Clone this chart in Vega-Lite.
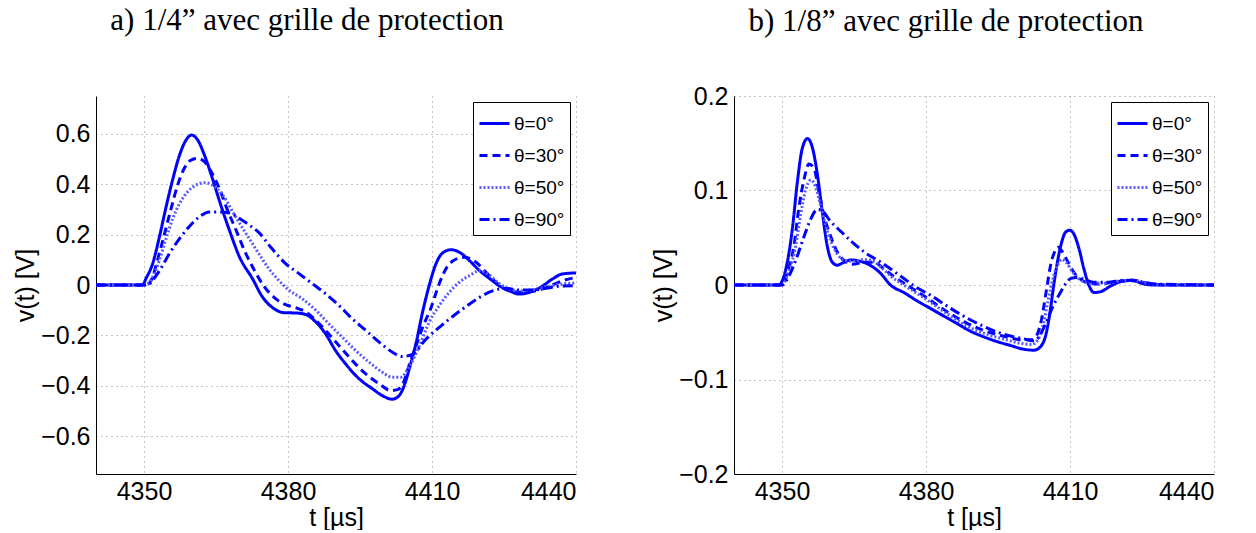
{
  "$schema": "https://vega.github.io/schema/vega-lite/v6.json",
  "padding": {"left": 13, "top": 5, "right": 5, "bottom": 0},
  "background": "white",
  "config": {
    "view": {"stroke": null},
    "font": "Liberation Sans",
    "axis": {
      "labelFont": "Liberation Sans", "labelFontSize": 25, "labelColor": "black",
      "titleFont": "Liberation Sans", "titleFontSize": 25, "titleFontWeight": "normal", "titleColor": "black",
      "domainColor": "black", "domainWidth": 1,
      "ticks": false,
      "gridColor": "#888888", "gridDash": [1, 4], "gridWidth": 1
    },
    "legend": {
      "orient": "top-right", "offset": 6, "title": null,
      "strokeColor": "black", "fillColor": "white", "padding": 5, "cornerRadius": 0,
      "labelFont": "Liberation Sans", "labelFontSize": 19, "labelColor": "black",
      "symbolType": "stroke", "symbolSize": 900, "rowPadding": 5, "labelOffset": 3
    },
    "title": {"font": "Liberation Serif", "fontSize": 31, "fontWeight": "normal", "color": "black", "frame": "group", "anchor": "middle"}
  },
  "resolve": {"scale": {"color": "independent", "strokeDash": "independent", "strokeWidth": "independent"}, "legend": {"color": "independent", "strokeDash": "independent", "strokeWidth": "independent"}},
  "spacing": 75,
  "datasets": {
    "a": [
      {"s":"θ=0°","t":4340,"v":0},{"s":"θ=0°","t":4349.7,"v":0},{"s":"θ=0°","t":4350.4,"v":0.025},{"s":"θ=0°","t":4351.8,"v":0.085},{"s":"θ=0°","t":4353.2,"v":0.19},{"s":"θ=0°","t":4354.6,"v":0.31},{"s":"θ=0°","t":4356,"v":0.42},{"s":"θ=0°","t":4357.4,"v":0.515},{"s":"θ=0°","t":4358.75,"v":0.575},{"s":"θ=0°","t":4359.9,"v":0.595},{"s":"θ=0°","t":4361.2,"v":0.575},{"s":"θ=0°","t":4362.6,"v":0.515},{"s":"θ=0°","t":4364.3,"v":0.42},{"s":"θ=0°","t":4366,"v":0.317},{"s":"θ=0°","t":4367.8,"v":0.217},{"s":"θ=0°","t":4369.9,"v":0.111},{"s":"θ=0°","t":4372.6,"v":0.025},{"s":"θ=0°","t":4374.7,"v":-0.048},{"s":"θ=0°","t":4377.1,"v":-0.094},{"s":"θ=0°","t":4379.2,"v":-0.11},{"s":"θ=0°","t":4381.6,"v":-0.111},{"s":"θ=0°","t":4383.7,"v":-0.117},{"s":"θ=0°","t":4385.8,"v":-0.147},{"s":"θ=0°","t":4387.8,"v":-0.193},{"s":"θ=0°","t":4389.9,"v":-0.26},{"s":"θ=0°","t":4392,"v":-0.313},{"s":"θ=0°","t":4394.8,"v":-0.372},{"s":"θ=0°","t":4397.6,"v":-0.412},{"s":"θ=0°","t":4399.65,"v":-0.439},{"s":"θ=0°","t":4401.7,"v":-0.453},{"s":"θ=0°","t":4403.1,"v":-0.44},{"s":"θ=0°","t":4404.2,"v":-0.4},{"s":"θ=0°","t":4405.3,"v":-0.33},{"s":"θ=0°","t":4406.7,"v":-0.228},{"s":"θ=0°","t":4408.1,"v":-0.102},{"s":"θ=0°","t":4409.4,"v":-0.003},{"s":"θ=0°","t":4410.8,"v":0.083},{"s":"θ=0°","t":4412.2,"v":0.127},{"s":"θ=0°","t":4414,"v":0.14},{"s":"θ=0°","t":4415.7,"v":0.13},{"s":"θ=0°","t":4417.8,"v":0.097},{"s":"θ=0°","t":4419.9,"v":0.057},{"s":"θ=0°","t":4421.9,"v":0.027},{"s":"θ=0°","t":4424,"v":-0.003},{"s":"θ=0°","t":4426.1,"v":-0.023},{"s":"θ=0°","t":4428.2,"v":-0.036},{"s":"θ=0°","t":4430.3,"v":-0.029},{"s":"θ=0°","t":4433.1,"v":-0.003},{"s":"θ=0°","t":4435.1,"v":0.024},{"s":"θ=0°","t":4437.2,"v":0.044},{"s":"θ=0°","t":4440,"v":0.048},
      {"s":"θ=30°","t":4340,"v":0},{"s":"θ=30°","t":4350.4,"v":0},{"s":"θ=30°","t":4351.5,"v":0.019},{"s":"θ=30°","t":4352.8,"v":0.098},{"s":"θ=30°","t":4354.2,"v":0.197},{"s":"θ=30°","t":4355.6,"v":0.3},{"s":"θ=30°","t":4357,"v":0.396},{"s":"θ=30°","t":4358.4,"v":0.463},{"s":"θ=30°","t":4359.8,"v":0.496},{"s":"θ=30°","t":4361.2,"v":0.502},{"s":"θ=30°","t":4362.6,"v":0.489},{"s":"θ=30°","t":4364,"v":0.449},{"s":"θ=30°","t":4365.7,"v":0.383},{"s":"θ=30°","t":4367.4,"v":0.297},{"s":"θ=30°","t":4369.2,"v":0.217},{"s":"θ=30°","t":4370.9,"v":0.138},{"s":"θ=30°","t":4373,"v":0.058},{"s":"θ=30°","t":4375,"v":-0.005},{"s":"θ=30°","t":4377.4,"v":-0.054},{"s":"θ=30°","t":4379.5,"v":-0.078},{"s":"θ=30°","t":4381.6,"v":-0.09},{"s":"θ=30°","t":4383.7,"v":-0.107},{"s":"θ=30°","t":4385.8,"v":-0.14},{"s":"θ=30°","t":4387.8,"v":-0.18},{"s":"θ=30°","t":4390.6,"v":-0.24},{"s":"θ=30°","t":4393.4,"v":-0.3},{"s":"θ=30°","t":4396.2,"v":-0.353},{"s":"θ=30°","t":4399,"v":-0.392},{"s":"θ=30°","t":4401.4,"v":-0.419},{"s":"θ=30°","t":4402.8,"v":-0.415},{"s":"θ=30°","t":4404,"v":-0.39},{"s":"θ=30°","t":4405.2,"v":-0.32},{"s":"θ=30°","t":4406.5,"v":-0.25},{"s":"θ=30°","t":4408,"v":-0.17},{"s":"θ=30°","t":4409.8,"v":-0.09},{"s":"θ=30°","t":4411.5,"v":0.005},{"s":"θ=30°","t":4412.9,"v":0.064},{"s":"θ=30°","t":4414.65,"v":0.099},{"s":"θ=30°","t":4416.7,"v":0.11},{"s":"θ=30°","t":4419.2,"v":0.09},{"s":"θ=30°","t":4421.25,"v":0.05},{"s":"θ=30°","t":4423.3,"v":0.011},{"s":"θ=30°","t":4426.1,"v":-0.023},{"s":"θ=30°","t":4428.9,"v":-0.029},{"s":"θ=30°","t":4431.7,"v":-0.023},{"s":"θ=30°","t":4434.4,"v":-0.005},{"s":"θ=30°","t":4437.2,"v":0.017},{"s":"θ=30°","t":4440,"v":0.03},
      {"s":"θ=50°","t":4340,"v":0},{"s":"θ=50°","t":4350.4,"v":0},{"s":"θ=50°","t":4351.8,"v":0.032},{"s":"θ=50°","t":4353.2,"v":0.098},{"s":"θ=50°","t":4354.6,"v":0.184},{"s":"θ=50°","t":4356,"v":0.264},{"s":"θ=50°","t":4357.4,"v":0.323},{"s":"θ=50°","t":4359.1,"v":0.37},{"s":"θ=50°","t":4360.8,"v":0.396},{"s":"θ=50°","t":4362.6,"v":0.406},{"s":"θ=50°","t":4364.3,"v":0.396},{"s":"θ=50°","t":4366.4,"v":0.357},{"s":"θ=50°","t":4368.5,"v":0.29},{"s":"θ=50°","t":4370.6,"v":0.224},{"s":"θ=50°","t":4372.6,"v":0.164},{"s":"θ=50°","t":4374.4,"v":0.11},{"s":"θ=50°","t":4376,"v":0.065},{"s":"θ=50°","t":4378,"v":0.02},{"s":"θ=50°","t":4380.2,"v":-0.02},{"s":"θ=50°","t":4383,"v":-0.055},{"s":"θ=50°","t":4385.8,"v":-0.1},{"s":"θ=50°","t":4388.5,"v":-0.154},{"s":"θ=50°","t":4391.3,"v":-0.207},{"s":"θ=50°","t":4394.1,"v":-0.26},{"s":"θ=50°","t":4396.9,"v":-0.306},{"s":"θ=50°","t":4399.65,"v":-0.346},{"s":"θ=50°","t":4401.7,"v":-0.366},{"s":"θ=50°","t":4403.5,"v":-0.366},{"s":"θ=50°","t":4405.2,"v":-0.326},{"s":"θ=50°","t":4407.4,"v":-0.241},{"s":"θ=50°","t":4409.4,"v":-0.148},{"s":"θ=50°","t":4411.5,"v":-0.082},{"s":"θ=50°","t":4413.6,"v":-0.029},{"s":"θ=50°","t":4415.7,"v":0.011},{"s":"θ=50°","t":4417.8,"v":0.037},{"s":"θ=50°","t":4419.9,"v":0.057},{"s":"θ=50°","t":4421.9,"v":0.04},{"s":"θ=50°","t":4424,"v":0.006},{"s":"θ=50°","t":4426.1,"v":-0.016},{"s":"θ=50°","t":4428.9,"v":-0.023},{"s":"θ=50°","t":4431.7,"v":-0.016},{"s":"θ=50°","t":4434.4,"v":-0.005},{"s":"θ=50°","t":4437.2,"v":0.004},{"s":"θ=50°","t":4440,"v":0.008},
      {"s":"θ=90°","t":4340,"v":0},{"s":"θ=90°","t":4350.8,"v":0},{"s":"θ=90°","t":4351.8,"v":0.019},{"s":"θ=90°","t":4353.5,"v":0.065},{"s":"θ=90°","t":4355.3,"v":0.125},{"s":"θ=90°","t":4357.4,"v":0.184},{"s":"θ=90°","t":4359.4,"v":0.231},{"s":"θ=90°","t":4361.5,"v":0.27},{"s":"θ=90°","t":4363.6,"v":0.29},{"s":"θ=90°","t":4365.7,"v":0.29},{"s":"θ=90°","t":4367.8,"v":0.286},{"s":"θ=90°","t":4369.9,"v":0.264},{"s":"θ=90°","t":4372,"v":0.237},{"s":"θ=90°","t":4374,"v":0.207},{"s":"θ=90°","t":4376.4,"v":0.15},{"s":"θ=90°","t":4379.5,"v":0.085},{"s":"θ=90°","t":4382.3,"v":0.045},{"s":"θ=90°","t":4385.1,"v":0.005},{"s":"θ=90°","t":4387.8,"v":-0.034},{"s":"θ=90°","t":4390.6,"v":-0.081},{"s":"θ=90°","t":4393.4,"v":-0.134},{"s":"θ=90°","t":4396.2,"v":-0.18},{"s":"θ=90°","t":4399,"v":-0.227},{"s":"θ=90°","t":4401.7,"v":-0.266},{"s":"θ=90°","t":4403.8,"v":-0.284},{"s":"θ=90°","t":4405.9,"v":-0.275},{"s":"θ=90°","t":4408.75,"v":-0.215},{"s":"θ=90°","t":4411.5,"v":-0.168},{"s":"θ=90°","t":4414.3,"v":-0.125},{"s":"θ=90°","t":4417.1,"v":-0.085},{"s":"θ=90°","t":4419.9,"v":-0.049},{"s":"θ=90°","t":4422.6,"v":-0.023},{"s":"θ=90°","t":4425.4,"v":-0.013},{"s":"θ=90°","t":4428.2,"v":-0.02},{"s":"θ=90°","t":4431,"v":-0.02},{"s":"θ=90°","t":4433.75,"v":-0.013},{"s":"θ=90°","t":4436.5,"v":-0.005},{"s":"θ=90°","t":4440,"v":-0.003}
    ],
    "b": [
      {"s":"θ=0°","t":4340,"v":0},{"s":"θ=0°","t":4349.4,"v":0},{"s":"θ=0°","t":4350.1,"v":0.005},{"s":"θ=0°","t":4351.1,"v":0.024},{"s":"θ=0°","t":4352.15,"v":0.059},{"s":"θ=0°","t":4353.2,"v":0.109},{"s":"θ=0°","t":4354.2,"v":0.144},{"s":"θ=0°","t":4355.3,"v":0.155},{"s":"θ=0°","t":4356.3,"v":0.146},{"s":"θ=0°","t":4357.4,"v":0.116},{"s":"θ=0°","t":4358.4,"v":0.077},{"s":"θ=0°","t":4359.4,"v":0.042},{"s":"θ=0°","t":4360.5,"v":0.024},{"s":"θ=0°","t":4361.5,"v":0.021},{"s":"θ=0°","t":4362.9,"v":0.024},{"s":"θ=0°","t":4364.3,"v":0.0265},{"s":"θ=0°","t":4366.4,"v":0.025},{"s":"θ=0°","t":4368.5,"v":0.0205},{"s":"θ=0°","t":4370.6,"v":0.012},{"s":"θ=0°","t":4372.6,"v":0.0},{"s":"θ=0°","t":4375.4,"v":-0.008},{"s":"θ=0°","t":4378.2,"v":-0.017},{"s":"θ=0°","t":4381,"v":-0.025},{"s":"θ=0°","t":4383.75,"v":-0.033},{"s":"θ=0°","t":4386.5,"v":-0.041},{"s":"θ=0°","t":4389.3,"v":-0.049},{"s":"θ=0°","t":4392.1,"v":-0.055},{"s":"θ=0°","t":4394.9,"v":-0.06},{"s":"θ=0°","t":4397.6,"v":-0.064},{"s":"θ=0°","t":4400.4,"v":-0.068},{"s":"θ=0°","t":4402.5,"v":-0.069},{"s":"θ=0°","t":4403.9,"v":-0.065},{"s":"θ=0°","t":4404.9,"v":-0.054},{"s":"θ=0°","t":4405.8,"v":-0.03},{"s":"θ=0°","t":4406.7,"v":0.003},{"s":"θ=0°","t":4408.1,"v":0.042},{"s":"θ=0°","t":4409.1,"v":0.056},{"s":"θ=0°","t":4410,"v":0.058},{"s":"θ=0°","t":4410.8,"v":0.054},{"s":"θ=0°","t":4411.9,"v":0.038},{"s":"θ=0°","t":4412.9,"v":0.017},{"s":"θ=0°","t":4414,"v":-0.001},{"s":"θ=0°","t":4415,"v":-0.008},{"s":"θ=0°","t":4416.4,"v":-0.007},{"s":"θ=0°","t":4418.5,"v":-0.001},{"s":"θ=0°","t":4420.6,"v":0.0035},{"s":"θ=0°","t":4423.3,"v":0.005},{"s":"θ=0°","t":4424.7,"v":0.002},{"s":"θ=0°","t":4427.5,"v":0},{"s":"θ=0°","t":4440,"v":0},
      {"s":"θ=30°","t":4340,"v":0},{"s":"θ=30°","t":4349.8,"v":0},{"s":"θ=30°","t":4351.1,"v":0.013},{"s":"θ=30°","t":4352.5,"v":0.042},{"s":"θ=30°","t":4353.5,"v":0.081},{"s":"θ=30°","t":4354.6,"v":0.112},{"s":"θ=30°","t":4355.6,"v":0.128},{"s":"θ=30°","t":4356.7,"v":0.123},{"s":"θ=30°","t":4357.7,"v":0.098},{"s":"θ=30°","t":4358.75,"v":0.0735},{"s":"θ=30°","t":4360.1,"v":0.052},{"s":"θ=30°","t":4361.5,"v":0.035},{"s":"θ=30°","t":4362.9,"v":0.026},{"s":"θ=30°","t":4364.65,"v":0.022},{"s":"θ=30°","t":4367.1,"v":0.024},{"s":"θ=30°","t":4369.2,"v":0.024},{"s":"θ=30°","t":4371.25,"v":0.017},{"s":"θ=30°","t":4373.3,"v":0.009},{"s":"θ=30°","t":4376,"v":0},{"s":"θ=30°","t":4380,"v":-0.013},{"s":"θ=30°","t":4384,"v":-0.027},{"s":"θ=30°","t":4388,"v":-0.039},{"s":"θ=30°","t":4392,"v":-0.048},{"s":"θ=30°","t":4396,"v":-0.054},{"s":"θ=30°","t":4400,"v":-0.058},{"s":"θ=30°","t":4402,"v":-0.058},{"s":"θ=30°","t":4403.2,"v":-0.052},{"s":"θ=30°","t":4404.2,"v":-0.033},{"s":"θ=30°","t":4405.1,"v":-0.005},{"s":"θ=30°","t":4406,"v":0.022},{"s":"θ=30°","t":4407,"v":0.037},{"s":"θ=30°","t":4407.5,"v":0.04},{"s":"θ=30°","t":4408.3,"v":0.036},{"s":"θ=30°","t":4409.5,"v":0.025},{"s":"θ=30°","t":4411,"v":0.012},{"s":"θ=30°","t":4412.5,"v":0.005},{"s":"θ=30°","t":4414,"v":0.002},{"s":"θ=30°","t":4416,"v":0.001},{"s":"θ=30°","t":4419,"v":0.003},{"s":"θ=30°","t":4423,"v":0.005},{"s":"θ=30°","t":4426,"v":0.002},{"s":"θ=30°","t":4430,"v":0},{"s":"θ=30°","t":4440,"v":0},
      {"s":"θ=50°","t":4340,"v":0},{"s":"θ=50°","t":4349.9,"v":0},{"s":"θ=50°","t":4351.5,"v":0.015},{"s":"θ=50°","t":4352.8,"v":0.04},{"s":"θ=50°","t":4353.9,"v":0.075},{"s":"θ=50°","t":4354.9,"v":0.1},{"s":"θ=50°","t":4356,"v":0.111},{"s":"θ=50°","t":4357,"v":0.104},{"s":"θ=50°","t":4358,"v":0.085},{"s":"θ=50°","t":4359,"v":0.065},{"s":"θ=50°","t":4360.3,"v":0.045},{"s":"θ=50°","t":4361.5,"v":0.033},{"s":"θ=50°","t":4363,"v":0.026},{"s":"θ=50°","t":4365,"v":0.025},{"s":"θ=50°","t":4367,"v":0.027},{"s":"θ=50°","t":4369,"v":0.025},{"s":"θ=50°","t":4371,"v":0.017},{"s":"θ=50°","t":4373,"v":0.008},{"s":"θ=50°","t":4376,"v":-0.002},{"s":"θ=50°","t":4380,"v":-0.015},{"s":"θ=50°","t":4384,"v":-0.029},{"s":"θ=50°","t":4388,"v":-0.042},{"s":"θ=50°","t":4392,"v":-0.051},{"s":"θ=50°","t":4396,"v":-0.057},{"s":"θ=50°","t":4400,"v":-0.062},{"s":"θ=50°","t":4402,"v":-0.063},{"s":"θ=50°","t":4403.3,"v":-0.058},{"s":"θ=50°","t":4404.5,"v":-0.04},{"s":"θ=50°","t":4405.5,"v":-0.015},{"s":"θ=50°","t":4406.5,"v":0.008},{"s":"θ=50°","t":4407.5,"v":0.022},{"s":"θ=50°","t":4408.3,"v":0.027},{"s":"θ=50°","t":4409.2,"v":0.024},{"s":"θ=50°","t":4410.5,"v":0.014},{"s":"θ=50°","t":4412,"v":0.006},{"s":"θ=50°","t":4414,"v":0.002},{"s":"θ=50°","t":4417,"v":0.002},{"s":"θ=50°","t":4420,"v":0.004},{"s":"θ=50°","t":4423,"v":0.005},{"s":"θ=50°","t":4426,"v":0.002},{"s":"θ=50°","t":4430,"v":0},{"s":"θ=50°","t":4440,"v":0},
      {"s":"θ=90°","t":4340,"v":0},{"s":"θ=90°","t":4350,"v":0},{"s":"θ=90°","t":4351.5,"v":0.01},{"s":"θ=90°","t":4353,"v":0.028},{"s":"θ=90°","t":4354.5,"v":0.05},{"s":"θ=90°","t":4356,"v":0.07},{"s":"θ=90°","t":4357.4,"v":0.08},{"s":"θ=90°","t":4358.5,"v":0.078},{"s":"θ=90°","t":4360,"v":0.068},{"s":"θ=90°","t":4362.2,"v":0.057},{"s":"θ=90°","t":4364.5,"v":0.046},{"s":"θ=90°","t":4367.1,"v":0.035},{"s":"θ=90°","t":4370.6,"v":0.024},{"s":"θ=90°","t":4374,"v":0.012},{"s":"θ=90°","t":4378,"v":-0.0025},{"s":"θ=90°","t":4381,"v":-0.011},{"s":"θ=90°","t":4384,"v":-0.021},{"s":"θ=90°","t":4386.5,"v":-0.029},{"s":"θ=90°","t":4389.3,"v":-0.037},{"s":"θ=90°","t":4392.1,"v":-0.044},{"s":"θ=90°","t":4394.9,"v":-0.05},{"s":"θ=90°","t":4397.6,"v":-0.054},{"s":"θ=90°","t":4400.4,"v":-0.057},{"s":"θ=90°","t":4402.2,"v":-0.059},{"s":"θ=90°","t":4403.5,"v":-0.055},{"s":"θ=90°","t":4405,"v":-0.04},{"s":"θ=90°","t":4406.5,"v":-0.022},{"s":"θ=90°","t":4408,"v":-0.008},{"s":"θ=90°","t":4409.2,"v":0.002},{"s":"θ=90°","t":4410.2,"v":0.007},{"s":"θ=90°","t":4411.5,"v":0.008},{"s":"θ=90°","t":4413,"v":0.006},{"s":"θ=90°","t":4415,"v":0.003},{"s":"θ=90°","t":4418,"v":0.003},{"s":"θ=90°","t":4421,"v":0.005},{"s":"θ=90°","t":4424,"v":0.004},{"s":"θ=90°","t":4428,"v":0.001},{"s":"θ=90°","t":4440,"v":0}
    ]
  },
  "hconcat": [
    {
      "width": 480, "height": 378,
      "data": {"name": "a"},
      "title": {"text": "a) 1/4” avec grille de protection", "dx": -29, "offset": 59},
      "mark": {"type": "line", "interpolate": "monotone", "clip": true},
      "encoding": {
        "x": {"field": "t", "type": "quantitative", "scale": {"domain": [4340, 4440], "nice": false, "zero": false}, "axis": {"values": [4350, 4380, 4410, 4440], "format": "d", "title": "t [µs]", "titlePadding": 1, "labelPadding": 5}},
        "y": {"field": "v", "type": "quantitative", "scale": {"domain": [-0.75, 0.75], "nice": false}, "axis": {"values": [-0.6, -0.4, -0.2, 0, 0.2, 0.4, 0.6], "format": "~g", "title": "v(t) [V]", "titlePadding": 2, "labelPadding": 6}},
        "color": {"field": "s", "type": "nominal", "scale": {"domain": ["θ=0°", "θ=30°", "θ=50°", "θ=90°"], "range": ["#0000ff", "#0000ff", "#5a5aff", "#0000ff"]}},
        "strokeDash": {"field": "s", "type": "nominal", "scale": {"domain": ["θ=0°", "θ=30°", "θ=50°", "θ=90°"], "range": [[1, 0], [8, 5], [2, 2], [10, 4, 2, 4]]}},
        "strokeWidth": {"field": "s", "type": "nominal", "scale": {"domain": ["θ=0°", "θ=30°", "θ=50°", "θ=90°"], "range": [3, 3, 1.5, 3]}}
      }
    },
    {
      "width": 480, "height": 378,
      "data": {"name": "b"},
      "title": {"text": "b) 1/8” avec grille de protection", "dx": -28, "offset": 46},
      "mark": {"type": "line", "interpolate": "monotone", "clip": true},
      "encoding": {
        "x": {"field": "t", "type": "quantitative", "scale": {"domain": [4340, 4440], "nice": false, "zero": false}, "axis": {"values": [4350, 4380, 4410, 4440], "format": "d", "title": "t [µs]", "titlePadding": 1, "labelPadding": 5}},
        "y": {"field": "v", "type": "quantitative", "scale": {"domain": [-0.2, 0.2], "nice": false}, "axis": {"values": [-0.2, -0.1, 0, 0.1, 0.2], "format": "~g", "title": "v(t) [V]", "titlePadding": 2, "labelPadding": 6}},
        "color": {"field": "s", "type": "nominal", "scale": {"domain": ["θ=0°", "θ=30°", "θ=50°", "θ=90°"], "range": ["#0000ff", "#0000ff", "#5a5aff", "#0000ff"]}},
        "strokeDash": {"field": "s", "type": "nominal", "scale": {"domain": ["θ=0°", "θ=30°", "θ=50°", "θ=90°"], "range": [[1, 0], [8, 5], [2, 2], [10, 4, 2, 4]]}},
        "strokeWidth": {"field": "s", "type": "nominal", "scale": {"domain": ["θ=0°", "θ=30°", "θ=50°", "θ=90°"], "range": [3, 3, 1.5, 3]}}
      }
    }
  ]
}
